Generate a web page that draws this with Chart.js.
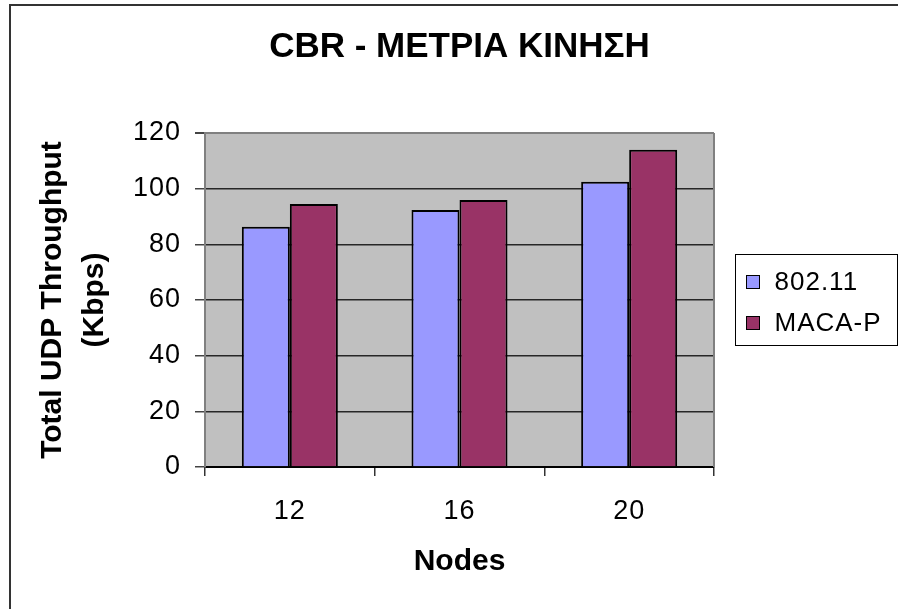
<!DOCTYPE html>
<html>
<head>
<meta charset="utf-8">
<script src="https://cdn.jsdelivr.net/npm/chart.js@4/dist/chart.umd.min.js"></script>
<style>
  html, body { margin: 0; padding: 0; background: #fff; }
  #wrap { width: 898px; height: 609px; }
</style>
</head>
<body>
<div id="wrap"><canvas id="chart" width="898" height="609"></canvas></div>
<script>
// Data
const nodeCounts = ['12', '16', '20'];
const seriesNames = ['802.11', 'MACA-P'];
const throughput80211 = [86.3, 92.3, 102.5];
const throughputMacaP = [94.5, 95.9, 114.0];
const yTicks = [0, 20, 40, 60, 80, 100, 120];

const FONT = "'Liberation Sans', Arial, sans-serif";

// Slightly looser glyph spacing for the regular-weight labels.
const ctxProto = CanvasRenderingContext2D.prototype;
const baseFill = ctxProto.fillText;
const baseMeasure = ctxProto.measureText;
function applySpacing(c) { c.letterSpacing = /bold/.test(c.font) ? '0px' : '1px'; }
ctxProto.fillText = function () { applySpacing(this); return baseFill.apply(this, arguments); };
ctxProto.measureText = function () { applySpacing(this); return baseMeasure.apply(this, arguments); };

// Page frame, grey plot background, plot border and the boxed legend.
const framePlugin = {
  id: 'frame',
  beforeDraw(chart) {
    const { ctx, chartArea: a } = chart;
    ctx.save();
    ctx.fillStyle = '#ffffff';
    ctx.fillRect(0, 0, chart.width, chart.height);
    ctx.fillStyle = '#C0C0C0';
    ctx.fillRect(a.left, a.top, a.right - a.left, a.bottom - a.top);
    ctx.strokeStyle = '#333333';
    ctx.lineWidth = 2;
    ctx.beginPath();
    ctx.moveTo(10, chart.height);
    ctx.lineTo(10, 5);
    ctx.lineTo(chart.width, 5);
    ctx.stroke();
    ctx.restore();
  },
  beforeDatasetsDraw(chart) {
    const { ctx, chartArea: a } = chart;
    ctx.save();
    ctx.strokeStyle = '#808080';
    ctx.lineWidth = 2;
    ctx.beginPath();
    ctx.moveTo(a.right, a.top);
    ctx.lineTo(a.right, a.bottom);
    ctx.stroke();
    ctx.restore();
  },
  afterDraw(chart) {
    const { ctx, chartArea: a } = chart;
    const box = { x: a.right + 21.5, y: 254.5, w: 162, h: 91 };
    ctx.save();
    ctx.strokeStyle = '#000';
    ctx.lineWidth = 1;
    ctx.strokeRect(box.x, box.y, box.w, box.h);
    ctx.font = '26px ' + FONT;
    ctx.textBaseline = 'middle';
    ctx.textAlign = 'left';
    chart.data.datasets.forEach((ds, i) => {
      const cy = 282 + i * 41;
      ctx.fillStyle = ds.backgroundColor;
      ctx.fillRect(box.x + 11, cy - 6.5, 13, 13);
      ctx.strokeStyle = '#000';
      ctx.strokeRect(box.x + 11, cy - 6.5, 13, 13);
      ctx.fillStyle = '#000';
      ctx.fillText(ds.label, box.x + 39, cy + 1);
    });
    ctx.restore();
  }
};

Chart.defaults.font.family = FONT;
Chart.defaults.color = '#000';

new Chart(document.getElementById('chart'), {
  type: 'bar',
  data: {
    labels: nodeCounts,
    datasets: [
      {
        label: seriesNames[0],
        data: throughput80211,
        backgroundColor: '#9999FF',
        borderColor: '#000',
        borderWidth: 2
      },
      {
        label: seriesNames[1],
        data: throughputMacaP,
        backgroundColor: '#993366',
        borderColor: '#000',
        borderWidth: 2
      }
    ]
  },
  options: {
    responsive: false,
    animation: false,
    devicePixelRatio: 1,
    layout: { padding: { left: 0, right: 184, top: 0, bottom: 0 } },
    datasets: {
      bar: { categoryPercentage: 0.566, barPercentage: 1.0 }
    },
    plugins: {
      legend: { display: false },
      tooltip: { enabled: false },
      title: {
        display: true,
        fullSize: false,
        text: 'CBR - ΜΕΤΡΙΑ ΚΙΝΗΣΗ',
        color: '#000',
        font: { size: 35, weight: 'bold', lineHeight: 1.2 },
        padding: { top: 26.5, bottom: 64.5 }
      }
    },
    scales: {
      x: {
        afterFit(scale) { scale.height = 142; },
        grid: {
          offset: true,
          drawOnChartArea: false,
          drawTicks: true,
          tickLength: 9,
          color: '#333',
          lineWidth: 1.5
        },
        border: { color: '#000', width: 2 },
        ticks: {
          font: { size: 27 },
          color: '#000',
          padding: 19
        },
        title: {
          display: true,
          text: 'Nodes',
          color: '#000',
          font: { size: 30, weight: 'bold', lineHeight: 1.2 },
          padding: { top: 0, bottom: 29 }
        }
      },
      y: {
        min: yTicks[0],
        max: yTicks[yTicks.length - 1],
        afterFit(scale) { scale.width = 205; },
        afterBuildTicks(scale) { scale.ticks = yTicks.map(v => ({ value: v })); },
        grid: {
          color: c => (c.tick && c.tick.value === yTicks[yTicks.length - 1]) ? '#808080' : '#262626',
          lineWidth: c => (c.tick && c.tick.value === yTicks[yTicks.length - 1]) ? 2 : 1.5,
          tickColor: '#444',
          tickLength: 10,
          drawTicks: true
        },
        border: { color: '#808080', width: 2 },
        ticks: {
          font: { size: 27 },
          color: '#000',
          padding: 14
        },
        title: {
          display: true,
          text: ['Total UDP Throughput', '(Kbps)'],
          color: '#000',
          font: { size: 30, weight: 'bold', lineHeight: 1.4 },
          padding: { top: 32, bottom: 0 }
        }
      }
    }
  },
  plugins: [framePlugin]
});
</script>
</body>
</html>
